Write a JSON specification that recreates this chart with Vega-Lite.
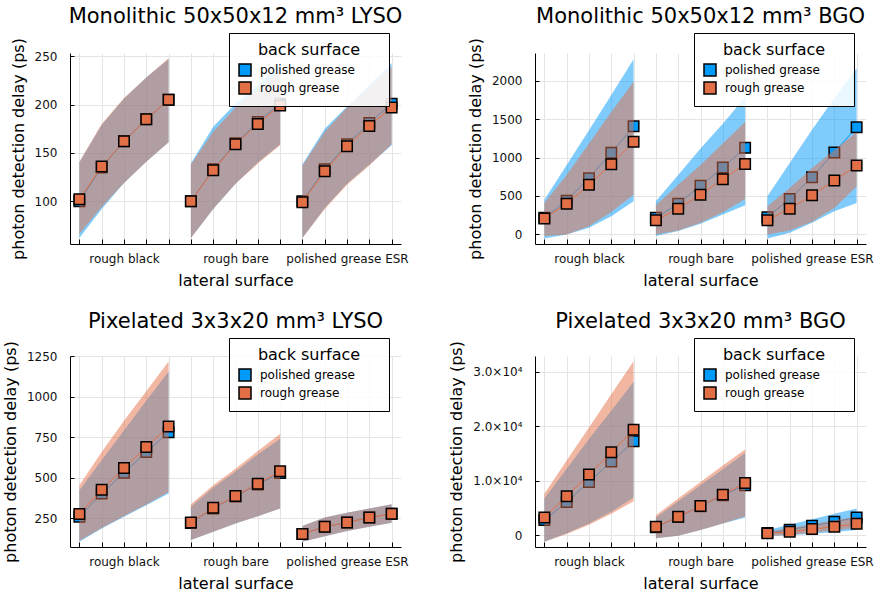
{
"$schema":"https://vega.github.io/schema/vega-lite/v6.json",
"background":"white",
"padding":{"left":2,"top":5,"right":4,"bottom":4},
"datasets":{"d":[
{"p":1,"s":"polished grease","g":1,"x":1,"m":100,"lo":62,"hi":140},
{"p":1,"s":"polished grease","g":1,"x":2,"m":135,"lo":92,"hi":179},
{"p":1,"s":"polished grease","g":1,"x":3,"m":162,"lo":119,"hi":206},
{"p":1,"s":"polished grease","g":1,"x":4,"m":185,"lo":141,"hi":228},
{"p":1,"s":"polished grease","g":1,"x":5,"m":205,"lo":161,"hi":247},
{"p":1,"s":"polished grease","g":2,"x":6,"m":100,"lo":62,"hi":139},
{"p":1,"s":"polished grease","g":2,"x":7,"m":133,"lo":92,"hi":177},
{"p":1,"s":"polished grease","g":2,"x":8,"m":160,"lo":118,"hi":201},
{"p":1,"s":"polished grease","g":2,"x":9,"m":182,"lo":140,"hi":220},
{"p":1,"s":"polished grease","g":2,"x":10,"m":201,"lo":159,"hi":242},
{"p":1,"s":"polished grease","g":3,"x":11,"m":100,"lo":62,"hi":138},
{"p":1,"s":"polished grease","g":3,"x":12,"m":133,"lo":93,"hi":175},
{"p":1,"s":"polished grease","g":3,"x":13,"m":159,"lo":118,"hi":198},
{"p":1,"s":"polished grease","g":3,"x":14,"m":181,"lo":138,"hi":220},
{"p":1,"s":"polished grease","g":3,"x":15,"m":201,"lo":158,"hi":243},
{"p":1,"s":"rough grease","g":1,"x":1,"m":102,"lo":66,"hi":141},
{"p":1,"s":"rough grease","g":1,"x":2,"m":136,"lo":94,"hi":180},
{"p":1,"s":"rough grease","g":1,"x":3,"m":162,"lo":119,"hi":207},
{"p":1,"s":"rough grease","g":1,"x":4,"m":185,"lo":141,"hi":228},
{"p":1,"s":"rough grease","g":1,"x":5,"m":205,"lo":161,"hi":248},
{"p":1,"s":"rough grease","g":2,"x":6,"m":100,"lo":62,"hi":138},
{"p":1,"s":"rough grease","g":2,"x":7,"m":132,"lo":92,"hi":172},
{"p":1,"s":"rough grease","g":2,"x":8,"m":159,"lo":118,"hi":197},
{"p":1,"s":"rough grease","g":2,"x":9,"m":180,"lo":139,"hi":216},
{"p":1,"s":"rough grease","g":2,"x":10,"m":199,"lo":158,"hi":236},
{"p":1,"s":"rough grease","g":3,"x":11,"m":99,"lo":62,"hi":137},
{"p":1,"s":"rough grease","g":3,"x":12,"m":131,"lo":92,"hi":172},
{"p":1,"s":"rough grease","g":3,"x":13,"m":157,"lo":117,"hi":197},
{"p":1,"s":"rough grease","g":3,"x":14,"m":178,"lo":137,"hi":218},
{"p":1,"s":"rough grease","g":3,"x":15,"m":197,"lo":159,"hi":239},
{"p":2,"s":"polished grease","g":1,"x":1,"m":215,"lo":-52,"hi":452},
{"p":2,"s":"polished grease","g":1,"x":2,"m":439,"lo":0,"hi":903},
{"p":2,"s":"polished grease","g":1,"x":3,"m":731,"lo":86,"hi":1355},
{"p":2,"s":"polished grease","g":1,"x":4,"m":1062,"lo":237,"hi":1815},
{"p":2,"s":"polished grease","g":1,"x":5,"m":1406,"lo":430,"hi":2280},
{"p":2,"s":"polished grease","g":2,"x":6,"m":215,"lo":-22,"hi":430},
{"p":2,"s":"polished grease","g":2,"x":7,"m":400,"lo":43,"hi":774},
{"p":2,"s":"polished grease","g":2,"x":8,"m":632,"lo":138,"hi":1118},
{"p":2,"s":"polished grease","g":2,"x":9,"m":869,"lo":258,"hi":1441},
{"p":2,"s":"polished grease","g":2,"x":10,"m":1127,"lo":378,"hi":1785},
{"p":2,"s":"polished grease","g":3,"x":11,"m":224,"lo":-52,"hi":495},
{"p":2,"s":"polished grease","g":3,"x":12,"m":460,"lo":22,"hi":930},
{"p":2,"s":"polished grease","g":3,"x":13,"m":744,"lo":150,"hi":1360},
{"p":2,"s":"polished grease","g":3,"x":14,"m":1067,"lo":301,"hi":1770},
{"p":2,"s":"polished grease","g":3,"x":15,"m":1394,"lo":409,"hi":2160},
{"p":2,"s":"rough grease","g":1,"x":1,"m":206,"lo":-22,"hi":409},
{"p":2,"s":"rough grease","g":1,"x":2,"m":400,"lo":0,"hi":774},
{"p":2,"s":"rough grease","g":1,"x":3,"m":645,"lo":107,"hi":1183},
{"p":2,"s":"rough grease","g":1,"x":4,"m":912,"lo":292,"hi":1591},
{"p":2,"s":"rough grease","g":1,"x":5,"m":1204,"lo":516,"hi":1987},
{"p":2,"s":"rough grease","g":2,"x":6,"m":185,"lo":0,"hi":378},
{"p":2,"s":"rough grease","g":2,"x":7,"m":335,"lo":52,"hi":645},
{"p":2,"s":"rough grease","g":2,"x":8,"m":516,"lo":150,"hi":903},
{"p":2,"s":"rough grease","g":2,"x":9,"m":718,"lo":288,"hi":1183},
{"p":2,"s":"rough grease","g":2,"x":10,"m":916,"lo":460,"hi":1462},
{"p":2,"s":"rough grease","g":3,"x":11,"m":185,"lo":0,"hi":366},
{"p":2,"s":"rough grease","g":3,"x":12,"m":335,"lo":52,"hi":602},
{"p":2,"s":"rough grease","g":3,"x":13,"m":508,"lo":163,"hi":860},
{"p":2,"s":"rough grease","g":3,"x":14,"m":701,"lo":344,"hi":1097},
{"p":2,"s":"rough grease","g":3,"x":15,"m":895,"lo":624,"hi":1333},
{"p":3,"s":"polished grease","g":1,"x":1,"m":260,"lo":107,"hi":424},
{"p":3,"s":"polished grease","g":1,"x":2,"m":404,"lo":188,"hi":609},
{"p":3,"s":"polished grease","g":1,"x":3,"m":533,"lo":260,"hi":793},
{"p":3,"s":"polished grease","g":1,"x":4,"m":660,"lo":332,"hi":977},
{"p":3,"s":"polished grease","g":1,"x":5,"m":783,"lo":404,"hi":1158},
{"p":3,"s":"polished grease","g":2,"x":6,"m":222,"lo":117,"hi":322},
{"p":3,"s":"polished grease","g":2,"x":7,"m":312,"lo":168,"hi":440},
{"p":3,"s":"polished grease","g":2,"x":8,"m":386,"lo":219,"hi":540},
{"p":3,"s":"polished grease","g":2,"x":9,"m":460,"lo":264,"hi":645},
{"p":3,"s":"polished grease","g":2,"x":10,"m":530,"lo":311,"hi":742},
{"p":3,"s":"polished grease","g":3,"x":11,"m":154,"lo":107,"hi":203},
{"p":3,"s":"polished grease","g":3,"x":12,"m":199,"lo":141,"hi":256},
{"p":3,"s":"polished grease","g":3,"x":13,"m":225,"lo":172,"hi":285},
{"p":3,"s":"polished grease","g":3,"x":14,"m":256,"lo":199,"hi":311},
{"p":3,"s":"polished grease","g":3,"x":15,"m":279,"lo":223,"hi":338},
{"p":3,"s":"rough grease","g":1,"x":1,"m":277,"lo":112,"hi":455},
{"p":3,"s":"rough grease","g":1,"x":2,"m":428,"lo":192,"hi":660},
{"p":3,"s":"rough grease","g":1,"x":3,"m":561,"lo":265,"hi":854},
{"p":3,"s":"rough grease","g":1,"x":4,"m":691,"lo":337,"hi":1035},
{"p":3,"s":"rough grease","g":1,"x":5,"m":818,"lo":414,"hi":1219},
{"p":3,"s":"rough grease","g":2,"x":6,"m":225,"lo":117,"hi":338},
{"p":3,"s":"rough grease","g":2,"x":7,"m":316,"lo":168,"hi":455},
{"p":3,"s":"rough grease","g":2,"x":8,"m":389,"lo":219,"hi":557},
{"p":3,"s":"rough grease","g":2,"x":9,"m":465,"lo":264,"hi":666},
{"p":3,"s":"rough grease","g":2,"x":10,"m":541,"lo":311,"hi":772},
{"p":3,"s":"rough grease","g":3,"x":11,"m":154,"lo":107,"hi":203},
{"p":3,"s":"rough grease","g":3,"x":12,"m":199,"lo":141,"hi":256},
{"p":3,"s":"rough grease","g":3,"x":13,"m":225,"lo":172,"hi":285},
{"p":3,"s":"rough grease","g":3,"x":14,"m":256,"lo":199,"hi":311},
{"p":3,"s":"rough grease","g":3,"x":15,"m":279,"lo":223,"hi":338},
{"p":4,"s":"polished grease","g":1,"x":1,"m":2738,"lo":-1217,"hi":6690},
{"p":4,"s":"polished grease","g":1,"x":2,"m":6085,"lo":304,"hi":12170},
{"p":4,"s":"polished grease","g":1,"x":3,"m":9736,"lo":2130,"hi":17650},
{"p":4,"s":"polished grease","g":1,"x":4,"m":13509,"lo":4260,"hi":22820},
{"p":4,"s":"polished grease","g":1,"x":5,"m":17220,"lo":6876,"hi":28170},
{"p":4,"s":"polished grease","g":2,"x":6,"m":1450,"lo":-608,"hi":3225},
{"p":4,"s":"polished grease","g":2,"x":7,"m":3300,"lo":-122,"hi":6200},
{"p":4,"s":"polished grease","g":2,"x":8,"m":5300,"lo":913,"hi":9150},
{"p":4,"s":"polished grease","g":2,"x":9,"m":7300,"lo":2130,"hi":12100},
{"p":4,"s":"polished grease","g":2,"x":10,"m":9128,"lo":3225,"hi":15090},
{"p":4,"s":"polished grease","g":3,"x":11,"m":365,"lo":-182,"hi":913},
{"p":4,"s":"polished grease","g":3,"x":12,"m":974,"lo":-50,"hi":1886},
{"p":4,"s":"polished grease","g":3,"x":13,"m":1704,"lo":250,"hi":2920},
{"p":4,"s":"polished grease","g":3,"x":14,"m":2434,"lo":550,"hi":3894},
{"p":4,"s":"polished grease","g":3,"x":15,"m":3225,"lo":913,"hi":4868},
{"p":4,"s":"rough grease","g":1,"x":1,"m":3225,"lo":-1217,"hi":7600},
{"p":4,"s":"rough grease","g":1,"x":2,"m":7120,"lo":200,"hi":13690},
{"p":4,"s":"rough grease","g":1,"x":3,"m":11135,"lo":1900,"hi":19780},
{"p":4,"s":"rough grease","g":1,"x":4,"m":15210,"lo":3900,"hi":25860},
{"p":4,"s":"rough grease","g":1,"x":5,"m":19350,"lo":6200,"hi":31950},
{"p":4,"s":"rough grease","g":2,"x":6,"m":1521,"lo":-608,"hi":3651},
{"p":4,"s":"rough grease","g":2,"x":7,"m":3347,"lo":-122,"hi":6694},
{"p":4,"s":"rough grease","g":2,"x":8,"m":5355,"lo":913,"hi":9736},
{"p":4,"s":"rough grease","g":2,"x":9,"m":7424,"lo":2130,"hi":12780},
{"p":4,"s":"rough grease","g":2,"x":10,"m":9553,"lo":3468,"hi":15700},
{"p":4,"s":"rough grease","g":3,"x":11,"m":304,"lo":-182,"hi":608},
{"p":4,"s":"rough grease","g":3,"x":12,"m":608,"lo":0,"hi":1300},
{"p":4,"s":"rough grease","g":3,"x":13,"m":1095,"lo":400,"hi":2000},
{"p":4,"s":"rough grease","g":3,"x":14,"m":1521,"lo":850,"hi":2700},
{"p":4,"s":"rough grease","g":3,"x":15,"m":2069,"lo":1339,"hi":3347}
]},
"columns":2,
"spacing":{"row":22,"column":39},
"resolve":{"scale":{"x":"independent","y":"independent"},"legend":{"color":"independent"}},
"concat":[
{"width":331,"height":191,"title":"Monolithic 50x50x12 mm³ LYSO","data":{"name":"d"},"transform":[{"filter":"datum.p == 1"}],
 "encoding":{
  "x":{"field":"x","type":"quantitative","scale":{"domain":[0.58,15.42],"nice":false,"zero":false},"title":"lateral surface","axis":{"values":[1,2,3,4,5,6,7,8,9,10,11,12,13,14,15],"labelExpr":"datum.value == 3 ? 'rough black' : datum.value == 8 ? 'rough bare' : datum.value == 13 ? 'polished grease ESR' : ''"}},
  "detail":{"field":"g"}},
 "layer":[
  {"transform":[{"filter":"datum.s == 'polished grease'"}],"mark":{"type":"area","opacity":0.5},"encoding":{"color":{"field":"s","type":"nominal","title":"back surface","scale":{"domain":["polished grease","rough grease"],"range":["#009AFA","#E36F47"]},"legend":{"orient":"none","legendX":159,"legendY":-20}},"y":{"field":"lo","type":"quantitative","scale":{"domain":[55.7,253.5],"nice":false,"zero":false},"axis":{"values":[100,150,200,250],"format":"d"},"title":"photon detection delay (ps)"},"y2":{"field":"hi"}}},
  {"transform":[{"filter":"datum.s == 'polished grease'"}],"mark":{"type":"line","strokeWidth":1},"encoding":{"stroke":{"field":"s","type":"nominal","scale":{"domain":["polished grease","rough grease"],"range":["#009AFA","#E36F47"]},"legend":null},"y":{"field":"m","type":"quantitative","scale":{"domain":[55.7,253.5],"nice":false,"zero":false},"axis":{"values":[100,150,200,250],"format":"d"},"title":"photon detection delay (ps)"}}},
  {"transform":[{"filter":"datum.s == 'polished grease'"}],"mark":{"type":"point","shape":"square","filled":true,"size":110,"stroke":"#000","strokeWidth":1.5,"opacity":1},"encoding":{"color":{"field":"s","type":"nominal","title":"back surface","scale":{"domain":["polished grease","rough grease"],"range":["#009AFA","#E36F47"]},"legend":{"orient":"none","legendX":159,"legendY":-20}},"y":{"field":"m","type":"quantitative","scale":{"domain":[55.7,253.5],"nice":false,"zero":false},"axis":{"values":[100,150,200,250],"format":"d"},"title":"photon detection delay (ps)"}}},
  {"transform":[{"filter":"datum.s == 'rough grease'"}],"mark":{"type":"area","opacity":0.5},"encoding":{"color":{"field":"s","type":"nominal","title":"back surface","scale":{"domain":["polished grease","rough grease"],"range":["#009AFA","#E36F47"]},"legend":{"orient":"none","legendX":159,"legendY":-20}},"y":{"field":"lo","type":"quantitative","scale":{"domain":[55.7,253.5],"nice":false,"zero":false},"axis":{"values":[100,150,200,250],"format":"d"},"title":"photon detection delay (ps)"},"y2":{"field":"hi"}}},
  {"transform":[{"filter":"datum.s == 'rough grease'"}],"mark":{"type":"line","strokeWidth":1},"encoding":{"stroke":{"field":"s","type":"nominal","scale":{"domain":["polished grease","rough grease"],"range":["#009AFA","#E36F47"]},"legend":null},"y":{"field":"m","type":"quantitative","scale":{"domain":[55.7,253.5],"nice":false,"zero":false},"axis":{"values":[100,150,200,250],"format":"d"},"title":"photon detection delay (ps)"}}},
  {"transform":[{"filter":"datum.s == 'rough grease'"}],"mark":{"type":"point","shape":"square","filled":true,"size":110,"stroke":"#000","strokeWidth":1.5,"opacity":1},"encoding":{"color":{"field":"s","type":"nominal","title":"back surface","scale":{"domain":["polished grease","rough grease"],"range":["#009AFA","#E36F47"]},"legend":{"orient":"none","legendX":159,"legendY":-20}},"y":{"field":"m","type":"quantitative","scale":{"domain":[55.7,253.5],"nice":false,"zero":false},"axis":{"values":[100,150,200,250],"format":"d"},"title":"photon detection delay (ps)"}}}
 ]},
{"width":331,"height":191,"title":"Monolithic 50x50x12 mm³ BGO","data":{"name":"d"},"transform":[{"filter":"datum.p == 2"}],
 "encoding":{
  "x":{"field":"x","type":"quantitative","scale":{"domain":[0.58,15.42],"nice":false,"zero":false},"title":"lateral surface","axis":{"values":[1,2,3,4,5,6,7,8,9,10,11,12,13,14,15],"labelExpr":"datum.value == 3 ? 'rough black' : datum.value == 8 ? 'rough bare' : datum.value == 13 ? 'polished grease ESR' : ''"}},
  "detail":{"field":"g"}},
 "layer":[
  {"transform":[{"filter":"datum.s == 'polished grease'"}],"mark":{"type":"area","opacity":0.5},"encoding":{"color":{"field":"s","type":"nominal","title":"back surface","scale":{"domain":["polished grease","rough grease"],"range":["#009AFA","#E36F47"]},"legend":{"orient":"none","legendX":159,"legendY":-20}},"y":{"field":"lo","type":"quantitative","scale":{"domain":[-125,2360],"nice":false,"zero":false},"axis":{"values":[0,500,1000,1500,2000],"format":"d"},"title":"photon detection delay (ps)"},"y2":{"field":"hi"}}},
  {"transform":[{"filter":"datum.s == 'polished grease'"}],"mark":{"type":"line","strokeWidth":1},"encoding":{"stroke":{"field":"s","type":"nominal","scale":{"domain":["polished grease","rough grease"],"range":["#009AFA","#E36F47"]},"legend":null},"y":{"field":"m","type":"quantitative","scale":{"domain":[-125,2360],"nice":false,"zero":false},"axis":{"values":[0,500,1000,1500,2000],"format":"d"},"title":"photon detection delay (ps)"}}},
  {"transform":[{"filter":"datum.s == 'polished grease'"}],"mark":{"type":"point","shape":"square","filled":true,"size":110,"stroke":"#000","strokeWidth":1.5,"opacity":1},"encoding":{"color":{"field":"s","type":"nominal","title":"back surface","scale":{"domain":["polished grease","rough grease"],"range":["#009AFA","#E36F47"]},"legend":{"orient":"none","legendX":159,"legendY":-20}},"y":{"field":"m","type":"quantitative","scale":{"domain":[-125,2360],"nice":false,"zero":false},"axis":{"values":[0,500,1000,1500,2000],"format":"d"},"title":"photon detection delay (ps)"}}},
  {"transform":[{"filter":"datum.s == 'rough grease'"}],"mark":{"type":"area","opacity":0.5},"encoding":{"color":{"field":"s","type":"nominal","title":"back surface","scale":{"domain":["polished grease","rough grease"],"range":["#009AFA","#E36F47"]},"legend":{"orient":"none","legendX":159,"legendY":-20}},"y":{"field":"lo","type":"quantitative","scale":{"domain":[-125,2360],"nice":false,"zero":false},"axis":{"values":[0,500,1000,1500,2000],"format":"d"},"title":"photon detection delay (ps)"},"y2":{"field":"hi"}}},
  {"transform":[{"filter":"datum.s == 'rough grease'"}],"mark":{"type":"line","strokeWidth":1},"encoding":{"stroke":{"field":"s","type":"nominal","scale":{"domain":["polished grease","rough grease"],"range":["#009AFA","#E36F47"]},"legend":null},"y":{"field":"m","type":"quantitative","scale":{"domain":[-125,2360],"nice":false,"zero":false},"axis":{"values":[0,500,1000,1500,2000],"format":"d"},"title":"photon detection delay (ps)"}}},
  {"transform":[{"filter":"datum.s == 'rough grease'"}],"mark":{"type":"point","shape":"square","filled":true,"size":110,"stroke":"#000","strokeWidth":1.5,"opacity":1},"encoding":{"color":{"field":"s","type":"nominal","title":"back surface","scale":{"domain":["polished grease","rough grease"],"range":["#009AFA","#E36F47"]},"legend":{"orient":"none","legendX":159,"legendY":-20}},"y":{"field":"m","type":"quantitative","scale":{"domain":[-125,2360],"nice":false,"zero":false},"axis":{"values":[0,500,1000,1500,2000],"format":"d"},"title":"photon detection delay (ps)"}}}
 ]},
{"width":331,"height":191,"title":"Pixelated 3x3x20 mm³ LYSO","data":{"name":"d"},"transform":[{"filter":"datum.p == 3"}],
 "encoding":{
  "x":{"field":"x","type":"quantitative","scale":{"domain":[0.58,15.42],"nice":false,"zero":false},"title":"lateral surface","axis":{"values":[1,2,3,4,5,6,7,8,9,10,11,12,13,14,15],"labelExpr":"datum.value == 3 ? 'rough black' : datum.value == 8 ? 'rough bare' : datum.value == 13 ? 'polished grease ESR' : ''"}},
  "detail":{"field":"g"}},
 "layer":[
  {"transform":[{"filter":"datum.s == 'polished grease'"}],"mark":{"type":"area","opacity":0.5},"encoding":{"color":{"field":"s","type":"nominal","title":"back surface","scale":{"domain":["polished grease","rough grease"],"range":["#009AFA","#E36F47"]},"legend":{"orient":"none","legendX":159,"legendY":-18}},"y":{"field":"lo","type":"quantitative","scale":{"domain":[74,1253],"nice":false,"zero":false},"axis":{"values":[250,500,750,1000,1250],"format":"d"},"title":"photon detection delay (ps)"},"y2":{"field":"hi"}}},
  {"transform":[{"filter":"datum.s == 'polished grease'"}],"mark":{"type":"line","strokeWidth":1},"encoding":{"stroke":{"field":"s","type":"nominal","scale":{"domain":["polished grease","rough grease"],"range":["#009AFA","#E36F47"]},"legend":null},"y":{"field":"m","type":"quantitative","scale":{"domain":[74,1253],"nice":false,"zero":false},"axis":{"values":[250,500,750,1000,1250],"format":"d"},"title":"photon detection delay (ps)"}}},
  {"transform":[{"filter":"datum.s == 'polished grease'"}],"mark":{"type":"point","shape":"square","filled":true,"size":110,"stroke":"#000","strokeWidth":1.5,"opacity":1},"encoding":{"color":{"field":"s","type":"nominal","title":"back surface","scale":{"domain":["polished grease","rough grease"],"range":["#009AFA","#E36F47"]},"legend":{"orient":"none","legendX":159,"legendY":-18}},"y":{"field":"m","type":"quantitative","scale":{"domain":[74,1253],"nice":false,"zero":false},"axis":{"values":[250,500,750,1000,1250],"format":"d"},"title":"photon detection delay (ps)"}}},
  {"transform":[{"filter":"datum.s == 'rough grease'"}],"mark":{"type":"area","opacity":0.5},"encoding":{"color":{"field":"s","type":"nominal","title":"back surface","scale":{"domain":["polished grease","rough grease"],"range":["#009AFA","#E36F47"]},"legend":{"orient":"none","legendX":159,"legendY":-18}},"y":{"field":"lo","type":"quantitative","scale":{"domain":[74,1253],"nice":false,"zero":false},"axis":{"values":[250,500,750,1000,1250],"format":"d"},"title":"photon detection delay (ps)"},"y2":{"field":"hi"}}},
  {"transform":[{"filter":"datum.s == 'rough grease'"}],"mark":{"type":"line","strokeWidth":1},"encoding":{"stroke":{"field":"s","type":"nominal","scale":{"domain":["polished grease","rough grease"],"range":["#009AFA","#E36F47"]},"legend":null},"y":{"field":"m","type":"quantitative","scale":{"domain":[74,1253],"nice":false,"zero":false},"axis":{"values":[250,500,750,1000,1250],"format":"d"},"title":"photon detection delay (ps)"}}},
  {"transform":[{"filter":"datum.s == 'rough grease'"}],"mark":{"type":"point","shape":"square","filled":true,"size":110,"stroke":"#000","strokeWidth":1.5,"opacity":1},"encoding":{"color":{"field":"s","type":"nominal","title":"back surface","scale":{"domain":["polished grease","rough grease"],"range":["#009AFA","#E36F47"]},"legend":{"orient":"none","legendX":159,"legendY":-18}},"y":{"field":"m","type":"quantitative","scale":{"domain":[74,1253],"nice":false,"zero":false},"axis":{"values":[250,500,750,1000,1250],"format":"d"},"title":"photon detection delay (ps)"}}}
 ]},
{"width":331,"height":191,"title":"Pixelated 3x3x20 mm³ BGO","data":{"name":"d"},"transform":[{"filter":"datum.p == 4"}],
 "encoding":{
  "x":{"field":"x","type":"quantitative","scale":{"domain":[0.58,15.42],"nice":false,"zero":false},"title":"lateral surface","axis":{"values":[1,2,3,4,5,6,7,8,9,10,11,12,13,14,15],"labelExpr":"datum.value == 3 ? 'rough black' : datum.value == 8 ? 'rough bare' : datum.value == 13 ? 'polished grease ESR' : ''"}},
  "detail":{"field":"g"}},
 "layer":[
  {"transform":[{"filter":"datum.s == 'polished grease'"}],"mark":{"type":"area","opacity":0.5},"encoding":{"color":{"field":"s","type":"nominal","title":"back surface","scale":{"domain":["polished grease","rough grease"],"range":["#009AFA","#E36F47"]},"legend":{"orient":"none","legendX":159,"legendY":-18}},"y":{"field":"lo","type":"quantitative","scale":{"domain":[-2200,32900],"nice":false,"zero":false},"axis":{"values":[0,10000,20000,30000],"labelExpr":"datum.value == 0 ? '0' : format(datum.value/10000, '.1f') + '×10⁴'"},"title":"photon detection delay (ps)"},"y2":{"field":"hi"}}},
  {"transform":[{"filter":"datum.s == 'polished grease'"}],"mark":{"type":"line","strokeWidth":1},"encoding":{"stroke":{"field":"s","type":"nominal","scale":{"domain":["polished grease","rough grease"],"range":["#009AFA","#E36F47"]},"legend":null},"y":{"field":"m","type":"quantitative","scale":{"domain":[-2200,32900],"nice":false,"zero":false},"axis":{"values":[0,10000,20000,30000],"labelExpr":"datum.value == 0 ? '0' : format(datum.value/10000, '.1f') + '×10⁴'"},"title":"photon detection delay (ps)"}}},
  {"transform":[{"filter":"datum.s == 'polished grease'"}],"mark":{"type":"point","shape":"square","filled":true,"size":110,"stroke":"#000","strokeWidth":1.5,"opacity":1},"encoding":{"color":{"field":"s","type":"nominal","title":"back surface","scale":{"domain":["polished grease","rough grease"],"range":["#009AFA","#E36F47"]},"legend":{"orient":"none","legendX":159,"legendY":-18}},"y":{"field":"m","type":"quantitative","scale":{"domain":[-2200,32900],"nice":false,"zero":false},"axis":{"values":[0,10000,20000,30000],"labelExpr":"datum.value == 0 ? '0' : format(datum.value/10000, '.1f') + '×10⁴'"},"title":"photon detection delay (ps)"}}},
  {"transform":[{"filter":"datum.s == 'rough grease'"}],"mark":{"type":"area","opacity":0.5},"encoding":{"color":{"field":"s","type":"nominal","title":"back surface","scale":{"domain":["polished grease","rough grease"],"range":["#009AFA","#E36F47"]},"legend":{"orient":"none","legendX":159,"legendY":-18}},"y":{"field":"lo","type":"quantitative","scale":{"domain":[-2200,32900],"nice":false,"zero":false},"axis":{"values":[0,10000,20000,30000],"labelExpr":"datum.value == 0 ? '0' : format(datum.value/10000, '.1f') + '×10⁴'"},"title":"photon detection delay (ps)"},"y2":{"field":"hi"}}},
  {"transform":[{"filter":"datum.s == 'rough grease'"}],"mark":{"type":"line","strokeWidth":1},"encoding":{"stroke":{"field":"s","type":"nominal","scale":{"domain":["polished grease","rough grease"],"range":["#009AFA","#E36F47"]},"legend":null},"y":{"field":"m","type":"quantitative","scale":{"domain":[-2200,32900],"nice":false,"zero":false},"axis":{"values":[0,10000,20000,30000],"labelExpr":"datum.value == 0 ? '0' : format(datum.value/10000, '.1f') + '×10⁴'"},"title":"photon detection delay (ps)"}}},
  {"transform":[{"filter":"datum.s == 'rough grease'"}],"mark":{"type":"point","shape":"square","filled":true,"size":110,"stroke":"#000","strokeWidth":1.5,"opacity":1},"encoding":{"color":{"field":"s","type":"nominal","title":"back surface","scale":{"domain":["polished grease","rough grease"],"range":["#009AFA","#E36F47"]},"legend":{"orient":"none","legendX":159,"legendY":-18}},"y":{"field":"m","type":"quantitative","scale":{"domain":[-2200,32900],"nice":false,"zero":false},"axis":{"values":[0,10000,20000,30000],"labelExpr":"datum.value == 0 ? '0' : format(datum.value/10000, '.1f') + '×10⁴'"},"title":"photon detection delay (ps)"}}}
 ]}
],
"config":{
 "view":{"stroke":null},
 "font":"DejaVu Sans",
 "title":{"font":"DejaVu Sans","fontSize":21,"fontWeight":"normal","color":"#000","frame":"group","anchor":"middle","offset":6},
 "axis":{"domainColor":"#000","domainWidth":1,"tickColor":"#000","gridColor":"#e4e4e4","gridWidth":1,"labelFont":"DejaVu Sans","labelFontSize":12,"labelColor":"#111","titleFont":"DejaVu Sans","titleFontSize":16,"titleFontWeight":"normal","titleColor":"#000"},
 "axisX":{"tickSize":-5,"labelPadding":14,"titlePadding":8,"labelAngle":0},
 "axisY":{"tickSize":-4,"labelPadding":17,"titlePadding":8},
 "legend":{"fillColor":"rgba(255,255,255,0.85)","strokeColor":"#000","padding":9,"titleFont":"DejaVu Sans","titleFontSize":16,"titleFontWeight":"normal","titleColor":"#000","titleAnchor":"middle","labelFont":"DejaVu Sans","labelFontSize":12,"labelColor":"#000","symbolType":"M22,0M-1,-1H1V1H-1Z","symbolSize":144,"symbolStrokeColor":"#000","symbolStrokeWidth":1.5,"symbolOpacity":1,"rowPadding":0,"labelOffset":8,"symbolOffset":0}
}
}
